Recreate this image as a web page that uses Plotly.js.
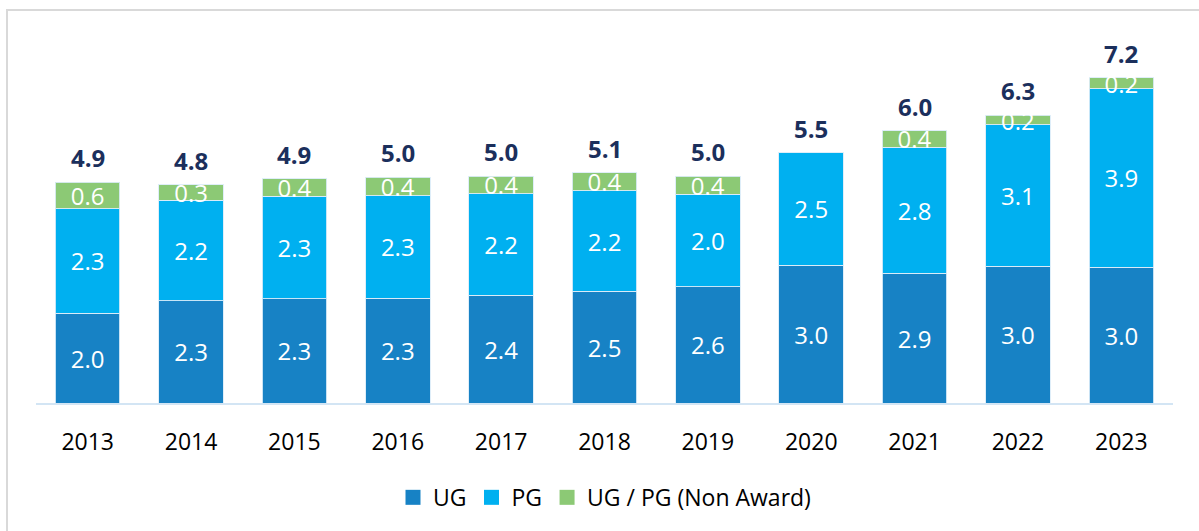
<!DOCTYPE html>
<html>
<head>
<meta charset="utf-8">
<script src="https://cdn.plot.ly/plotly-3.0.1.min.js"></script>
<style>
  html, body { margin: 0; padding: 0; background: #ffffff; }
  #frame { position: absolute; left: 6px; top: 9px; width: 1300px; height: 700px; border: 2px solid #d9d9d9; box-sizing: border-box; }
  #chart { position: absolute; left: 0; top: 0; width: 1199px; height: 531px; }
</style>
</head>
<body>
<div id="frame"></div>
<div id="chart"></div>
<script>
// Data
const years = ['2013','2014','2015','2016','2017','2018','2019','2020','2021','2022','2023'];
const ugValues = [1.98, 2.25, 2.30, 2.31, 2.37, 2.46, 2.56, 3.04, 2.86, 3.01, 2.99];
const pgValues = [2.30, 2.22, 2.26, 2.26, 2.24, 2.22, 2.04, 2.48, 2.78, 3.12, 3.94];
const nonAwardValues = [0.59, 0.34, 0.38, 0.40, 0.39, 0.39, 0.40, 0, 0.36, 0.21, 0.24];
const seriesNames = ['UG', 'PG', 'UG / PG (Non Award)'];

const colors = ['#1782c5', '#00b0f0', '#8cc975'];
const FONT = '"Open Sans", "Noto Sans", sans-serif';

function labels(arr) { return arr.map(v => v > 0 ? v.toFixed(1) : ''); }
function vals(arr) { return arr.map(v => v > 0 ? v : null); }

const seriesData = [ugValues, pgValues, nonAwardValues];
const traces = seriesData.map((arr, i) => ({
  type: 'bar',
  name: seriesNames[i],
  x: years,
  y: vals(arr),
  text: labels(arr),
  textposition: 'inside',
  insidetextanchor: 'middle',
  constraintext: 'none',
  textangle: 0,
  textfont: { family: FONT, size: 24, color: '#ffffff' },
  marker: { color: colors[i], line: { color: 'rgba(220,236,248,0.9)', width: 1 } },
  showlegend: false,
  hoverinfo: 'x+y+name'
}));

// legend-only entries with larger square swatches
seriesNames.forEach((n, i) => traces.push({
  type: 'scatter', mode: 'markers', name: n,
  x: [null], y: [null],
  marker: { symbol: 'square', size: 15, color: colors[i] },
  showlegend: true, hoverinfo: 'skip'
}));

const totals = years.map((y, i) => ugValues[i] + pgValues[i] + nonAwardValues[i]);
const annotations = years.map((y, i) => ({
  x: i, y: totals[i], xref: 'x', yref: 'y',
  text: '<b>' + totals[i].toFixed(1) + '</b>',
  showarrow: false, yanchor: 'bottom', yshift: 6,
  font: { family: FONT, size: 24, color: '#1b2f5c' }
}));

const layout = {
  width: 1199, height: 531,
  margin: { l: 36, r: 26, t: 40, b: 128, pad: 0 },
  paper_bgcolor: 'rgba(0,0,0,0)',
  plot_bgcolor: 'rgba(0,0,0,0)',
  barmode: 'stack',
  bargap: 0.376,
  showlegend: true,
  legend: {
    orientation: 'h', x: 0.5, xanchor: 'center', y: -0.26, yanchor: 'middle',
    font: { family: FONT, size: 23, color: '#000000' },
    traceorder: 'normal', itemwidth: 30
  },
  xaxis: {
    type: 'category', range: [-0.5, 10.5],
    showline: true, linecolor: '#d3e5f4', linewidth: 2,
    ticks: '', showgrid: false, zeroline: false,
    ticklabelstandoff: 17,
    tickfont: { family: FONT, size: 23, color: '#000000' }
  },
  yaxis: {
    range: [0, 8], visible: false, showgrid: false, zeroline: false
  },
  annotations: annotations,
  font: { family: FONT }
};

Plotly.newPlot('chart', traces, layout, { displayModeBar: false, staticPlot: true });
</script>
</body>
</html>
